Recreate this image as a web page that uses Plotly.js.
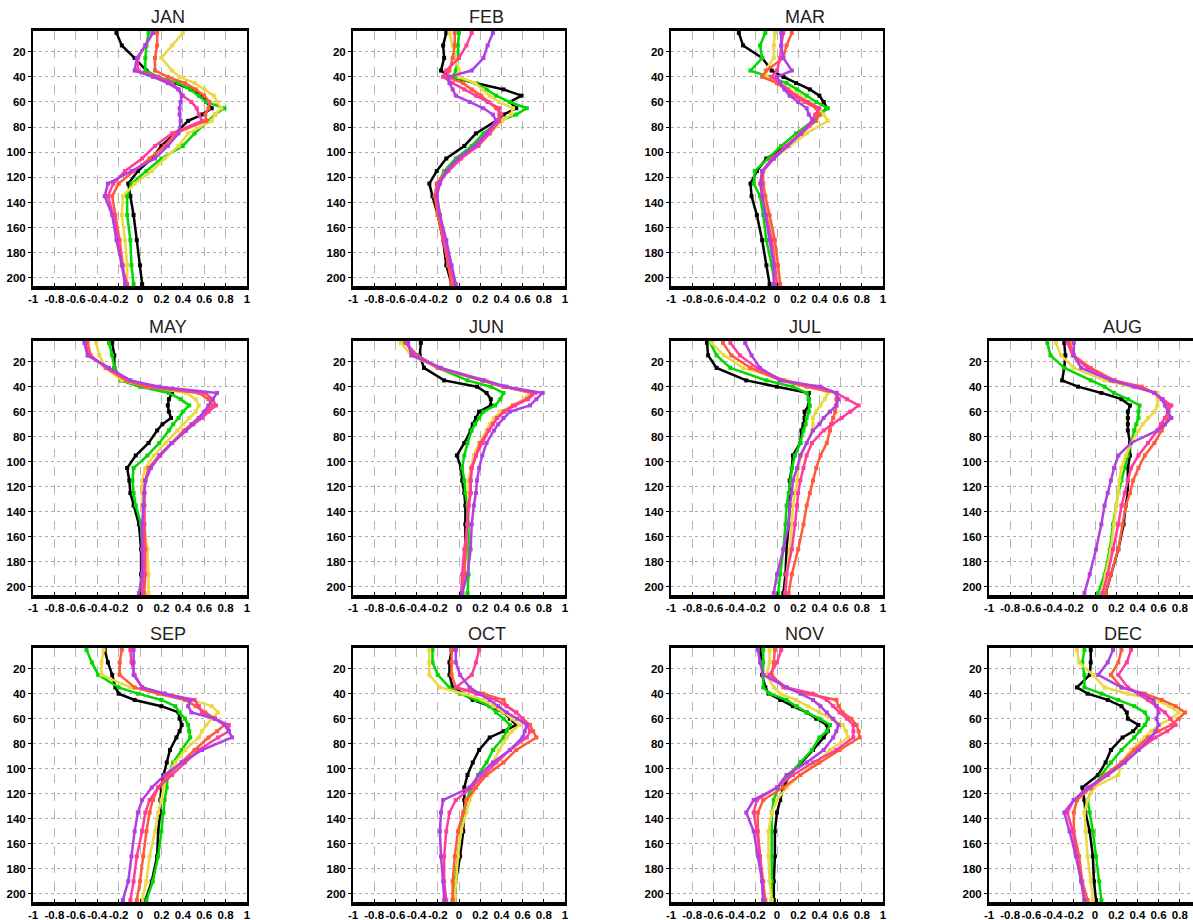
<!DOCTYPE html>
<html>
<head>
<meta charset="utf-8">
<script src="https://cdn.plot.ly/plotly-3.0.1.min.js"></script>
<style>
html,body{margin:0;padding:0;background:#fff;overflow:hidden;}
#chart{width:1210px;height:920px;}
</style>
</head>
<body>
<div id="chart"></div>
<script>
// Depth levels (y axis, increasing downward)
const depth = [5,15,25,35,40,45,50,55,60,65,70,75,85,95,105,115,125,135,150,170,190,205];

// Series order in every month: black, green, yellow, orange, pink, purple
const seriesNames = ['S1','S2','S3','S4','S5','S6'];
const seriesColors = ['#000000','#00d800','#ecd840','#ff5a3a','#ff3c9c','#b040e0'];

const xTickVals = [-1,-0.8,-0.6,-0.4,-0.2,0,0.2,0.4,0.6,0.8,1];
const xTickText = ['-1','-0.8','-0.6','-0.4','-0.2','0','0.2','0.4','0.6','0.8','1'];
const yTickVals = [20,40,60,80,100,120,140,160,180,200];

const JAN = [
 [-0.22,-0.17,-0.05,0.06,0.14,0.33,0.48,0.58,0.62,0.67,0.58,0.45,0.33,0.2,0.11,-0.02,-0.11,-0.09,-0.06,-0.03,0.0,0.02],
 [0.08,0.06,0.05,0.05,0.17,0.36,0.47,0.55,0.62,0.79,0.7,0.64,0.51,0.4,0.2,0.06,-0.08,-0.12,-0.12,-0.09,-0.08,-0.06],
 [0.40,0.30,0.20,0.30,0.37,0.51,0.6,0.69,0.72,0.76,0.7,0.67,0.45,0.36,0.23,0.11,-0.05,-0.16,-0.17,-0.14,-0.12,-0.12],
 [0.16,0.16,0.14,0.14,0.26,0.42,0.52,0.6,0.65,0.64,0.61,0.62,0.33,0.23,0.09,-0.06,-0.2,-0.26,-0.23,-0.19,-0.16,-0.14],
 [0.12,0.05,-0.02,-0.02,0.17,0.3,0.36,0.4,0.48,0.53,0.55,0.58,0.3,0.14,0.02,-0.14,-0.25,-0.3,-0.25,-0.2,-0.17,-0.12],
 [0.12,0.05,-0.03,-0.05,0.12,0.26,0.36,0.39,0.38,0.37,0.37,0.38,0.36,0.26,0.14,-0.08,-0.3,-0.33,-0.26,-0.22,-0.17,-0.14]
];
const FEB = [
 [-0.12,-0.15,-0.14,-0.17,-0.09,0.16,0.42,0.59,0.48,0.54,0.42,0.35,0.16,0.05,-0.12,-0.21,-0.28,-0.25,-0.2,-0.15,-0.12,-0.07],
 [0.0,-0.01,-0.01,-0.03,-0.06,0.16,0.26,0.35,0.48,0.64,0.54,0.38,0.23,0.12,-0.03,-0.14,-0.2,-0.21,-0.18,-0.14,-0.09,-0.06],
 [-0.09,-0.06,-0.03,0.0,0.0,0.15,0.22,0.29,0.38,0.51,0.49,0.41,0.29,0.16,0.0,-0.12,-0.2,-0.21,-0.18,-0.14,-0.1,-0.06],
 [-0.04,-0.04,-0.06,-0.09,-0.12,0.04,0.12,0.21,0.28,0.35,0.4,0.35,0.26,0.15,0.0,-0.12,-0.21,-0.23,-0.2,-0.15,-0.1,-0.07],
 [0.12,0.07,0.0,-0.12,-0.15,-0.06,0.05,0.16,0.27,0.38,0.38,0.38,0.29,0.18,0.02,-0.1,-0.2,-0.21,-0.18,-0.14,-0.09,-0.04],
 [0.32,0.27,0.23,0.12,-0.1,-0.09,-0.06,-0.03,0.1,0.23,0.32,0.35,0.26,0.15,-0.01,-0.12,-0.18,-0.21,-0.18,-0.12,-0.07,-0.03]
];
const MAR = [
 [-0.36,-0.32,-0.14,-0.05,0.06,0.18,0.31,0.4,0.44,0.47,0.4,0.34,0.22,0.09,-0.1,-0.19,-0.25,-0.24,-0.19,-0.14,-0.1,-0.07],
 [-0.11,-0.16,-0.14,-0.25,-0.07,0.09,0.19,0.28,0.37,0.48,0.4,0.34,0.18,0.04,-0.08,-0.21,-0.22,-0.16,-0.13,-0.1,-0.05,-0.02],
 [-0.02,-0.03,-0.03,-0.11,-0.1,0.03,0.12,0.22,0.31,0.39,0.44,0.48,0.28,0.12,-0.03,-0.14,-0.14,-0.13,-0.08,-0.03,-0.02,0.0],
 [0.14,0.09,0.06,-0.1,-0.14,0.0,0.08,0.15,0.26,0.37,0.4,0.37,0.23,0.09,-0.03,-0.13,-0.13,-0.11,-0.07,-0.02,0.01,0.03],
 [0.06,0.04,0.03,0.0,-0.05,0.03,0.1,0.18,0.29,0.4,0.36,0.33,0.22,0.08,-0.05,-0.14,-0.16,-0.14,-0.1,-0.05,-0.02,0.0],
 [0.04,0.04,0.06,0.14,0.0,0.03,0.07,0.12,0.2,0.28,0.3,0.34,0.23,0.1,-0.03,-0.14,-0.15,-0.14,-0.11,-0.07,-0.03,-0.03]
];
const MAY = [
 [-0.26,-0.24,-0.24,-0.17,0.05,0.3,0.27,0.26,0.27,0.29,0.21,0.16,0.08,-0.04,-0.12,-0.1,-0.09,-0.06,-0.01,0.01,0.01,0.01],
 [-0.29,-0.26,-0.24,-0.18,0.0,0.27,0.38,0.46,0.4,0.36,0.31,0.27,0.18,0.07,-0.06,-0.07,-0.06,-0.04,0.01,0.02,0.02,0.02],
 [-0.41,-0.38,-0.32,-0.17,0.08,0.43,0.52,0.55,0.52,0.46,0.4,0.35,0.24,0.13,0.05,0.02,0.02,0.02,0.04,0.07,0.08,0.08],
 [-0.49,-0.46,-0.32,-0.13,0.05,0.55,0.64,0.68,0.61,0.55,0.48,0.41,0.29,0.18,0.08,0.05,0.04,0.04,0.04,0.05,0.05,0.04],
 [-0.51,-0.48,-0.3,-0.1,0.12,0.61,0.68,0.71,0.64,0.58,0.5,0.43,0.3,0.19,0.1,0.05,0.04,0.04,0.04,0.04,0.04,0.02],
 [-0.52,-0.49,-0.29,-0.09,0.18,0.72,0.68,0.64,0.6,0.55,0.49,0.43,0.3,0.18,0.1,0.05,0.04,0.03,0.02,0.02,0.02,-0.01]
];
const JUN = [
 [-0.36,-0.37,-0.33,-0.14,0.17,0.26,0.3,0.3,0.19,0.16,0.13,0.11,0.05,-0.02,0.02,0.03,0.05,0.06,0.06,0.06,0.05,0.03],
 [-0.51,-0.39,-0.2,0.08,0.3,0.42,0.39,0.34,0.23,0.19,0.15,0.12,0.08,0.05,0.03,0.05,0.06,0.08,0.09,0.09,0.09,0.08],
 [-0.55,-0.45,-0.2,0.26,0.42,0.67,0.61,0.51,0.39,0.33,0.29,0.26,0.19,0.14,0.11,0.09,0.09,0.09,0.08,0.06,0.05,0.03],
 [-0.5,-0.42,-0.2,0.23,0.42,0.7,0.64,0.51,0.42,0.36,0.32,0.28,0.2,0.16,0.12,0.11,0.11,0.09,0.08,0.06,0.05,0.03],
 [-0.5,-0.4,-0.18,0.22,0.42,0.72,0.65,0.53,0.43,0.36,0.32,0.28,0.22,0.16,0.12,0.11,0.11,0.09,0.08,0.05,0.03,0.02],
 [-0.48,-0.45,-0.17,0.23,0.45,0.79,0.73,0.67,0.48,0.42,0.37,0.33,0.26,0.22,0.19,0.17,0.16,0.14,0.12,0.11,0.08,0.03]
];
const JUL = [
 [-0.66,-0.65,-0.57,-0.29,0.0,0.3,0.3,0.3,0.26,0.26,0.25,0.23,0.22,0.15,0.14,0.12,0.12,0.12,0.11,0.09,0.08,0.06],
 [-0.63,-0.57,-0.44,-0.1,0.15,0.28,0.3,0.31,0.3,0.28,0.27,0.25,0.22,0.17,0.14,0.13,0.11,0.09,0.08,0.06,0.03,0.01],
 [-0.62,-0.5,-0.32,0.09,0.34,0.48,0.45,0.41,0.37,0.34,0.34,0.33,0.28,0.23,0.2,0.19,0.17,0.15,0.14,0.12,0.09,0.08],
 [-0.51,-0.43,-0.25,0.03,0.28,0.56,0.56,0.56,0.55,0.53,0.51,0.5,0.47,0.41,0.37,0.34,0.31,0.28,0.25,0.2,0.14,0.11],
 [-0.44,-0.35,-0.19,0.06,0.37,0.56,0.66,0.77,0.69,0.61,0.52,0.44,0.33,0.28,0.25,0.22,0.2,0.19,0.17,0.14,0.09,0.08],
 [-0.3,-0.24,-0.16,0.03,0.41,0.56,0.58,0.56,0.5,0.44,0.4,0.34,0.28,0.22,0.19,0.15,0.14,0.12,0.11,0.06,0.0,-0.03]
];
const AUG = [
 [-0.29,-0.28,-0.29,-0.31,-0.16,0.06,0.25,0.33,0.31,0.31,0.31,0.31,0.33,0.33,0.31,0.31,0.31,0.29,0.27,0.22,0.15,0.1],
 [-0.45,-0.42,-0.29,-0.04,0.09,0.18,0.31,0.42,0.41,0.41,0.39,0.37,0.34,0.31,0.28,0.25,0.22,0.2,0.17,0.14,0.09,0.03],
 [-0.37,-0.32,-0.2,0.09,0.34,0.59,0.59,0.59,0.56,0.5,0.45,0.41,0.34,0.29,0.25,0.23,0.22,0.2,0.18,0.15,0.1,0.06],
 [-0.24,-0.2,-0.04,0.18,0.44,0.56,0.63,0.69,0.69,0.69,0.66,0.63,0.56,0.47,0.41,0.36,0.33,0.29,0.26,0.22,0.15,0.1],
 [-0.26,-0.21,-0.07,0.18,0.4,0.56,0.64,0.72,0.69,0.66,0.62,0.59,0.5,0.41,0.34,0.31,0.28,0.25,0.22,0.17,0.12,0.07],
 [-0.2,-0.2,-0.13,0.15,0.37,0.56,0.63,0.66,0.69,0.72,0.66,0.59,0.34,0.22,0.18,0.15,0.12,0.09,0.06,0.01,-0.05,-0.1]
];
const SEP = [
 [-0.33,-0.3,-0.26,-0.23,-0.2,-0.05,0.2,0.36,0.37,0.39,0.37,0.34,0.28,0.25,0.22,0.2,0.19,0.19,0.17,0.16,0.11,0.05],
 [-0.5,-0.45,-0.39,-0.2,-0.02,0.2,0.33,0.37,0.42,0.45,0.46,0.47,0.39,0.31,0.26,0.25,0.23,0.22,0.2,0.17,0.12,0.06],
 [-0.34,-0.36,-0.36,-0.09,0.23,0.48,0.67,0.73,0.67,0.62,0.58,0.55,0.42,0.33,0.25,0.22,0.2,0.17,0.14,0.09,0.06,0.02],
 [-0.17,-0.19,-0.19,-0.05,0.17,0.42,0.52,0.61,0.7,0.79,0.72,0.64,0.51,0.39,0.26,0.17,0.12,0.09,0.06,0.03,0.0,-0.03],
 [-0.09,-0.08,-0.05,0.02,0.23,0.51,0.55,0.58,0.7,0.83,0.83,0.73,0.55,0.42,0.3,0.17,0.09,0.05,0.02,-0.03,-0.06,-0.09],
 [-0.06,-0.06,-0.06,0.02,0.23,0.47,0.45,0.48,0.7,0.79,0.83,0.86,0.58,0.39,0.23,0.11,0.02,-0.02,-0.05,-0.08,-0.11,-0.16]
];
const OCT = [
 [-0.07,-0.09,-0.09,-0.06,0.04,0.13,0.29,0.42,0.48,0.54,0.42,0.29,0.19,0.13,0.08,0.05,0.05,0.05,0.04,0.01,-0.03,-0.04],
 [-0.25,-0.25,-0.2,-0.09,0.01,0.16,0.29,0.35,0.42,0.48,0.45,0.42,0.32,0.26,0.18,0.12,0.07,0.05,0.02,-0.01,-0.04,-0.06],
 [-0.28,-0.28,-0.28,-0.18,0.04,0.23,0.33,0.42,0.5,0.57,0.5,0.45,0.38,0.32,0.23,0.16,0.1,0.07,0.02,-0.01,-0.03,-0.04],
 [-0.07,-0.07,-0.07,-0.03,0.23,0.42,0.45,0.54,0.6,0.67,0.7,0.73,0.54,0.42,0.26,0.16,0.07,0.04,-0.01,-0.04,-0.06,-0.06],
 [0.19,0.16,0.12,-0.03,0.16,0.35,0.45,0.54,0.6,0.64,0.67,0.64,0.48,0.35,0.23,0.12,-0.03,-0.09,-0.12,-0.14,-0.14,-0.12],
 [-0.03,-0.03,0.01,0.1,0.19,0.29,0.37,0.45,0.55,0.64,0.62,0.6,0.48,0.32,0.19,0.1,-0.15,-0.17,-0.18,-0.17,-0.15,-0.14]
];
const NOV = [
 [-0.16,-0.14,-0.14,-0.11,-0.08,0.03,0.15,0.28,0.37,0.47,0.48,0.44,0.34,0.23,0.12,0.06,0.03,0.0,-0.02,-0.02,-0.03,-0.03],
 [-0.13,-0.13,-0.13,-0.13,-0.07,0.09,0.18,0.28,0.4,0.5,0.47,0.4,0.33,0.22,0.11,0.01,-0.03,-0.05,-0.05,-0.05,-0.05,-0.05],
 [-0.07,-0.07,-0.1,-0.03,0.03,0.18,0.29,0.4,0.52,0.62,0.65,0.67,0.5,0.37,0.22,0.09,0.0,-0.05,-0.08,-0.08,-0.07,-0.05],
 [-0.02,-0.03,-0.05,0.06,0.28,0.56,0.58,0.62,0.7,0.75,0.77,0.78,0.59,0.4,0.22,0.06,-0.13,-0.18,-0.18,-0.16,-0.13,-0.11],
 [0.04,0.0,-0.07,0.09,0.34,0.47,0.53,0.59,0.66,0.72,0.72,0.72,0.56,0.34,0.15,0.0,-0.19,-0.22,-0.19,-0.16,-0.14,-0.13],
 [-0.18,-0.16,-0.13,0.09,0.22,0.34,0.41,0.47,0.53,0.58,0.56,0.53,0.44,0.28,0.09,0.0,-0.22,-0.29,-0.22,-0.18,-0.14,-0.13]
];
const DEC = [
 [-0.04,-0.04,-0.05,-0.17,-0.07,0.12,0.25,0.3,0.31,0.41,0.36,0.26,0.15,0.1,0.03,-0.12,-0.1,-0.09,-0.05,-0.02,-0.01,0.01],
 [-0.1,-0.12,-0.1,-0.1,0.06,0.22,0.37,0.47,0.5,0.47,0.42,0.37,0.25,0.15,0.06,-0.02,-0.07,-0.05,-0.02,0.01,0.04,0.06],
 [-0.17,-0.15,-0.02,0.09,0.31,0.57,0.7,0.79,0.72,0.6,0.53,0.47,0.34,0.25,0.22,-0.01,-0.07,-0.1,-0.09,-0.07,-0.04,-0.02],
 [0.25,0.22,0.15,0.25,0.47,0.63,0.76,0.85,0.79,0.72,0.6,0.5,0.37,0.25,0.09,-0.04,-0.17,-0.2,-0.2,-0.15,-0.12,-0.07],
 [0.34,0.3,0.22,0.31,0.41,0.5,0.58,0.66,0.71,0.76,0.68,0.57,0.41,0.28,0.12,-0.04,-0.2,-0.26,-0.21,-0.17,-0.13,-0.1],
 [0.17,0.12,0.03,0.25,0.44,0.55,0.58,0.6,0.58,0.6,0.57,0.53,0.41,0.28,0.12,-0.07,-0.2,-0.29,-0.24,-0.18,-0.13,-0.1]
];

const monthNames = ['JAN','FEB','MAR','MAY','JUN','JUL','AUG','SEP','OCT','NOV','DEC'];
const monthData = [JAN,FEB,MAR,MAY,JUN,JUL,AUG,SEP,OCT,NOV,DEC];

// ---- layout geometry (pixels in a 1210 x 920 canvas, cropped at 1193) ----
const W = 1210, H = 920;
const colPx = [[33,247],[353,565],[671,883],[989,1201]];
const rowPx = [[31,286],[341,595],[648,902]];
const cells = [[0,0],[0,1],[0,2],[1,0],[1,1],[1,2],[1,3],[2,0],[2,1],[2,2],[2,3]];

const traces = [];
const layout = {
  width: W, height: H,
  margin: {l:0,r:0,t:0,b:0},
  paper_bgcolor: '#ffffff',
  plot_bgcolor: '#ffffff',
  showlegend: false,
  annotations: []
};

const tickFont = {family: 'Arial, Liberation Sans, sans-serif', size: 11.5, color: '#000', weight: 'bold'};

monthNames.forEach((m, i) => {
  const n = i + 1;
  const xa = 'x' + (n === 1 ? '' : n);
  const ya = 'y' + (n === 1 ? '' : n);
  const [r, c] = cells[i];
  const xd = [colPx[c][0] / W, colPx[c][1] / W];
  const yd = [1 - rowPx[r][1] / H, 1 - rowPx[r][0] / H];

  layout['xaxis' + (n === 1 ? '' : n)] = {
    domain: xd, anchor: ya, range: [-1, 1], fixedrange: true,
    tickmode: 'array', tickvals: xTickVals, ticktext: xTickText, tickangle: 0,
    tickfont: tickFont, ticks: 'inside', ticklen: 3, tickwidth: 1, tickcolor: '#000',
    showgrid: true, gridcolor: '#b4b4b4', griddash: 'dash', gridwidth: 1,
    zeroline: false, showline: true, mirror: true, linecolor: '#000', linewidth: 3.5
  };
  layout['yaxis' + (n === 1 ? '' : n)] = {
    domain: yd, anchor: xa, range: [206.5, 3.5], fixedrange: true,
    tickmode: 'array', tickvals: yTickVals, ticktext: yTickVals.map(String),
    tickfont: tickFont, ticks: 'outside', ticklen: 3, tickwidth: 1, tickcolor: '#000',
    showgrid: true, gridcolor: '#acacac', griddash: 'dot', gridwidth: 1,
    zeroline: false, showline: true, mirror: true, linecolor: '#000', linewidth: 2
  };
  layout.annotations.push({
    text: m, showarrow: false,
    xref: xa + ' domain', yref: ya + ' domain',
    x: 0.632, y: 1.054, xanchor: 'center', yanchor: 'middle',
    font: {family: 'Liberation Sans, Arial, sans-serif', size: 18, color: '#222'}
  });

  monthData[i].forEach((vals, s) => {
    traces.push({
      type: 'scatter', mode: 'lines+markers',
      x: vals, y: depth, xaxis: xa, yaxis: ya,
      name: seriesNames[s],
      line: {color: seriesColors[s], width: 2.5},
      marker: {color: seriesColors[s], size: 4, symbol: 'square'},
      cliponaxis: true, hoverinfo: 'skip'
    });
  });
});

Plotly.newPlot('chart', traces, layout, {staticPlot: true, displayModeBar: false});
</script>
</body>
</html>
